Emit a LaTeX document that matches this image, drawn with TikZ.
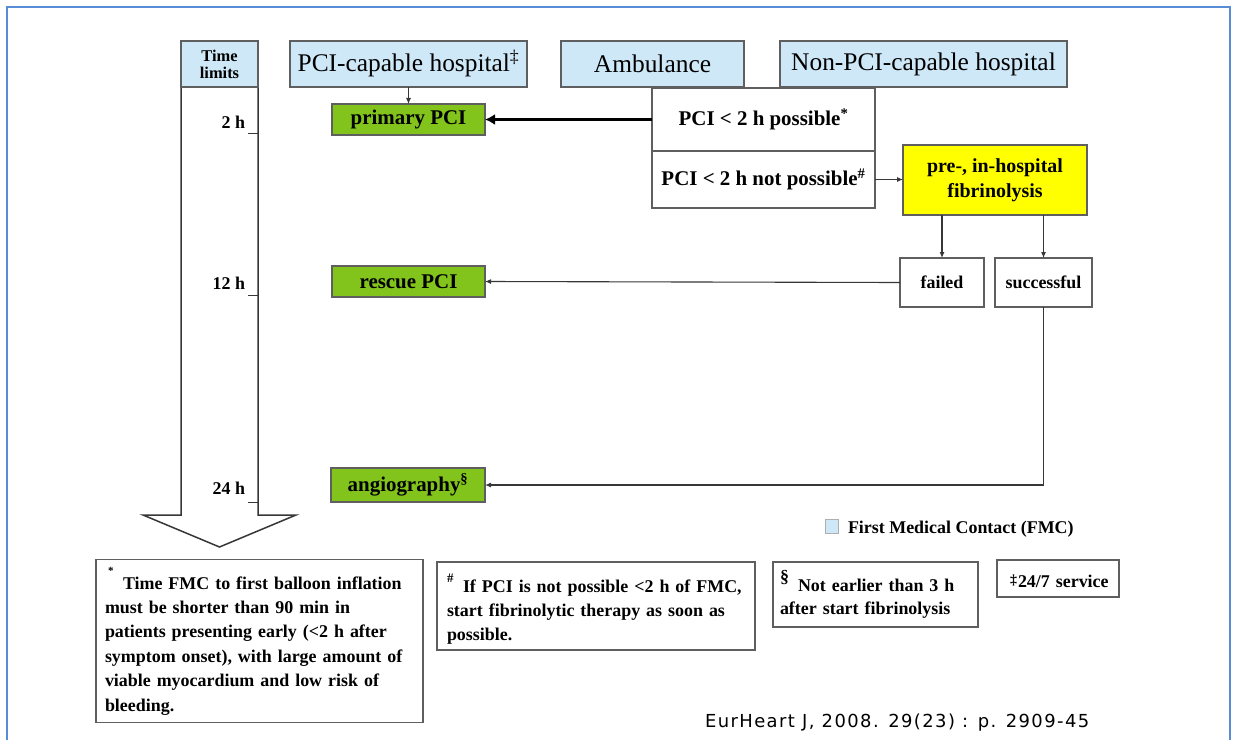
\documentclass[tikz,border=0pt]{standalone}
\usepackage{fontspec}
\setmainfont{Liberation Serif}
\newfontfamily\citefont[LetterSpace=8]{DejaVu Sans}
\usetikzlibrary{arrows.meta}
\definecolor{fmcblue}{RGB}{206,232,248}
\definecolor{pcigreen}{RGB}{130,196,28}
\definecolor{fibyellow}{RGB}{255,255,0}
\definecolor{frameblue}{RGB}{88,140,214}
\definecolor{edgegray}{RGB}{95,95,95}
\definecolor{linegray}{RGB}{55,55,55}
\newcommand{\fsz}[2]{\fontsize{#1}{#2}\selectfont}
\begin{document}
\begin{tikzpicture}[x=1bp,y=-1bp,
  every node/.style={inner sep=0pt, outer sep=0pt},
  fmcbox/.style={draw=edgegray, fill=fmcblue, line width=1.3bp, font=\fsz{25.5}{28}},
  greenbox/.style={draw=edgegray, fill=pcigreen, line width=1.1bp, font=\fsz{21}{24}\bfseries},
  whitebox/.style={draw=edgegray, fill=white, line width=1.3bp},
  notebox/.style={draw=edgegray, fill=white, line width=1.5bp},
  notetext/.style={anchor=base west, align=left, text width=330bp, font=\fsz{18}{24.5}\bfseries},
  conn/.style={draw=linegray, line width=1.1bp, -{Latex[length=6bp,width=5bp]}},
  thickconn/.style={draw=black, line width=3.2bp, -{Latex[length=10bp,width=11bp]}},
  timeline/.style={draw=linegray, line width=1.5bp, line join=miter},
  ticklabel/.style={anchor=base east, font=\fsz{18}{20}\bfseries},
]
\useasboundingbox (0,0) rectangle (1241,740);
\fill[white] (0,0) rectangle (1241,740);
% outer frame
\draw[frameblue, line width=2.5bp] (7,745) -- (7,7) -- (1230,7) -- (1230,745);

% time arrow
\draw[timeline] (181,87) -- (181,515) -- (143,515) -- (219.5,547) -- (296,515) -- (258,515) -- (258,87);
\node[draw=edgegray, fill=fmcblue, line width=1.5bp, minimum width=77bp, minimum height=46bp,
      font=\fsz{16.5}{17}\bfseries, align=center] (timehdr) at (219.5,64) {Time\\limits};
\node[ticklabel] (t2) at (245,128) {2 h};
\node[ticklabel] (t12) at (245,289) {12 h};
\node[ticklabel] (t24) at (245,494) {24 h};
\draw[linegray, line width=1bp] (248,133) -- (258,133);
\draw[linegray, line width=1bp] (248,295) -- (258,295);
\draw[linegray, line width=1bp] (248,502) -- (258,502);

% first medical contact boxes
\node[fmcbox, minimum width=237bp, minimum height=46bp] (pcihosp) at (408.5,64) {PCI-capable hospital\textsuperscript{‡}};
\node[fmcbox, minimum width=183bp, minimum height=46bp] (amb) at (652.5,64) {Ambulance};
\node[fmcbox, minimum width=287bp, minimum height=46bp] (nonpci) at (923.5,64) {Non-PCI-capable hospital};

% decision boxes
\node[whitebox, minimum width=223bp, minimum height=63bp, font=\fsz{21}{24}\bfseries] (poss) at (763.5,119.5) {PCI < 2 h possible\textsuperscript{*}};
\node[whitebox, minimum width=223bp, minimum height=57bp, font=\fsz{21}{24}\bfseries] (notposs) at (763.5,179.5) {PCI < 2 h not possible\textsuperscript{\#}};
\node[draw=edgegray, fill=fibyellow, line width=1.3bp, minimum width=184bp, minimum height=70bp,
      font=\fsz{20}{25}\bfseries, align=center] (fib) at (995,180) {pre-, in-hospital\\fibrinolysis};
\node[whitebox, minimum width=84bp, minimum height=49bp, font=\fsz{18}{20}\bfseries] (failed) at (942,282.5) {failed};
\node[whitebox, minimum width=97bp, minimum height=49bp, font=\fsz{18}{20}\bfseries] (succ) at (1043.5,282.5) {successful};

% green treatment boxes
\node[greenbox, minimum width=153bp, minimum height=31bp] (primary) at (408.5,119.5) {primary PCI};
\node[greenbox, minimum width=153bp, minimum height=31bp] (rescue) at (408.5,281.5) {rescue PCI};
\node[greenbox, minimum width=154bp, minimum height=34bp] (angio) at (408,485) {angiography\textsuperscript{§}};

% connectors
\draw[conn] (pcihosp.south) -- (primary.north);
\draw[thickconn] (poss.west) -- (primary.east);
\draw[conn] (notposs.east) -- (fib.west |- notposs.east);
\draw[conn] (failed.north |- fib.south) -- (failed.north);
\draw[conn] (succ.north |- fib.south) -- (succ.north);
\draw[conn] (failed.west) -- (rescue.east);
\draw[conn] (succ.south) -- (succ.south |- angio.east) -- (angio.east);

% legend
\node[draw=edgegray!50, fill=fmcblue, line width=0.8bp, minimum width=13bp, minimum height=14bp] (legsq) at (832,526.5) {};
\node[anchor=base west, font=\fsz{18}{20}\bfseries] (legtxt) at (848,533) {First Medical Contact (FMC)};

% footnote boxes
\node[notebox, minimum width=327bp, minimum height=163bp] (fnA) at (259.5,641) {};
\node[notebox, minimum width=318bp, minimum height=88bp] (fnB) at (596,606) {};
\node[notebox, minimum width=205bp, minimum height=65bp] (fnC) at (875.5,594.5) {};
\node[notebox, minimum width=122bp, minimum height=37bp] (fnD) at (1058,578.5) {};

\node[notetext] (fnAtext) at (105,589) {\makebox[18bp][l]{\hspace{3bp}\raisebox{15bp}{\fsz{11}{11}*}}Time FMC to first balloon inflation\\
must be shorter than 90 min in\\
patients presenting early (<2 h after\\
symptom onset), with large amount of\\
viable myocardium and low risk of\\
bleeding.};
\node[notetext] (fnBtext) at (447,592) {\makebox[16bp][l]{\raisebox{10bp}{\fsz{13}{13}\#}}If PCI is not possible <2 h of FMC,\\
start fibrinolytic therapy as soon as\\
possible.};
\node[notetext, font=\fsz{18}{24}\bfseries] (fnCtext) at (780,591) {\makebox[18bp][l]{\raisebox{9bp}{\fsz{18}{18}§}}Not earlier than 3 h\\
after start fibrinolysis};
\node[notetext] (fnDtext) at (1010,587) {\makebox[8bp][l]{\raisebox{3bp}{\fsz{14}{14}‡}}24/7 service};

% citation
\node[anchor=base west, font=\citefont\fsz{18}{20}] (cite) at (705,727) {EurHeart J, 2008. 29(23) : p. 2909-45};
\end{tikzpicture}
\end{document}
